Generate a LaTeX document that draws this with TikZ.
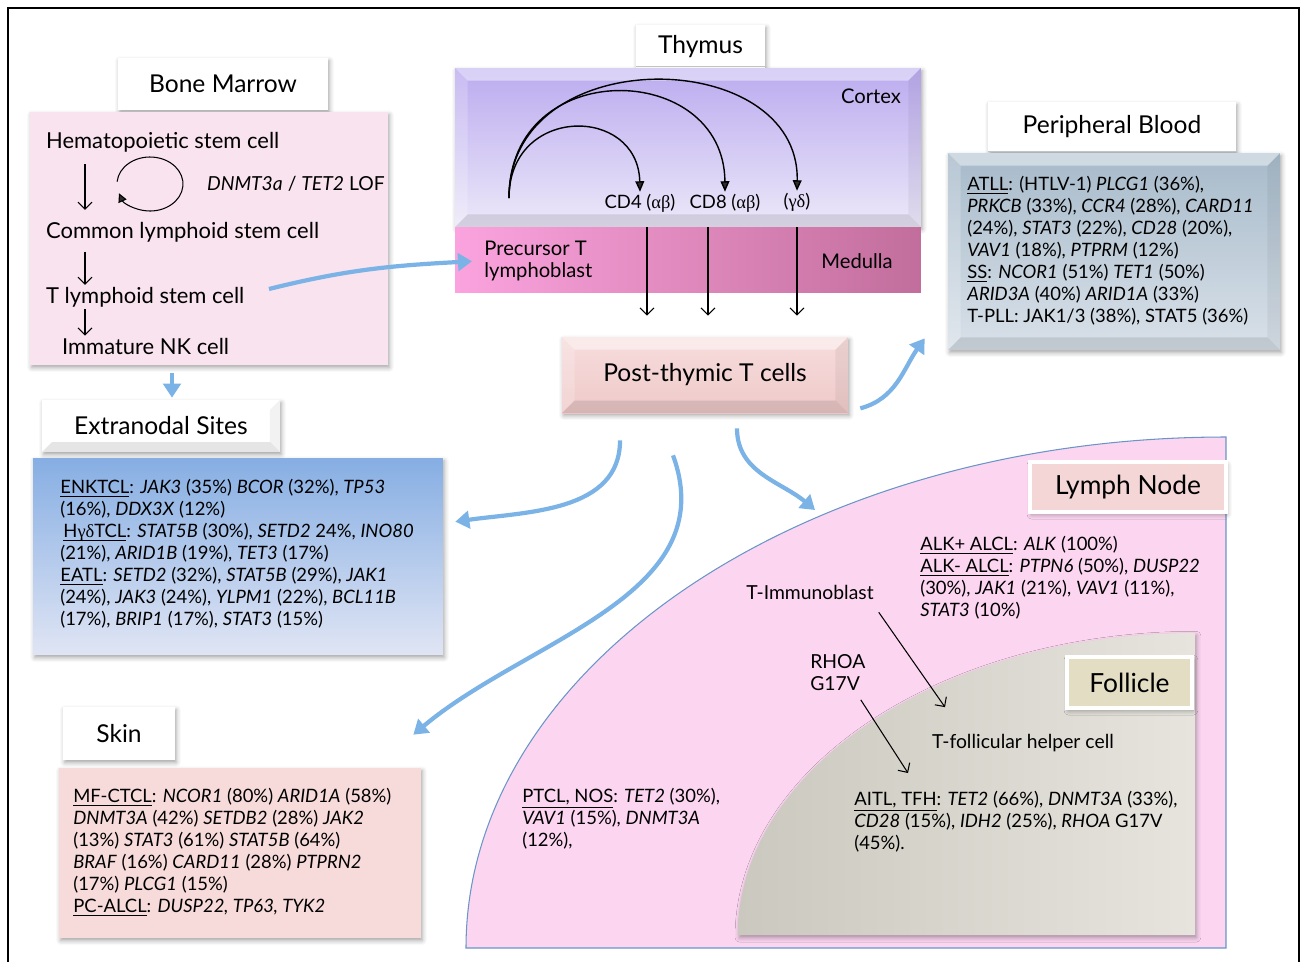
\documentclass[tikz,border=0pt]{standalone}
\usepackage{fontspec}
\setmainfont{Lato}
\newfontfamily\grk{Liberation Serif}
\usetikzlibrary{arrows.meta, positioning, shadows, shadows.blur, calc}
\definecolor{marrowpink}{HTML}{F9E3EE}
\definecolor{cortextop}{HTML}{BBABEF}
\definecolor{cortexbot}{HTML}{ECE8F9}
\definecolor{medleft}{HTML}{FBA3DE}
\definecolor{medright}{HTML}{C26E9C}
\definecolor{posttop}{HTML}{F7DCDC}
\definecolor{postbot}{HTML}{EFC9C9}
\definecolor{bloodtop}{HTML}{A7BACA}
\definecolor{bloodbot}{HTML}{D9E1E9}
\definecolor{extratop}{HTML}{86AEE3}
\definecolor{extrabot}{HTML}{E0E5F4}
\definecolor{skinpink}{HTML}{F7DADA}
\definecolor{nodepink}{HTML}{FCD6F1}
\definecolor{nodeline}{HTML}{6A95C8}
\definecolor{nodetitle}{HTML}{F5D6D6}
\definecolor{follL}{HTML}{CBC8BF}
\definecolor{follR}{HTML}{E6E4DD}
\definecolor{folltitle}{HTML}{E3DDC4}
\definecolor{arrowblue}{HTML}{7CB3E6}

\tikzset{
  bevel/.style={path picture={
    \fill[white,opacity=.45] (path picture bounding box.north west) -- (path picture bounding box.north east)
      -- ([shift={(-#1,-#1)}]path picture bounding box.north east) -- ([shift={(#1,-#1)}]path picture bounding box.north west) -- cycle;
    \fill[white,opacity=.2] (path picture bounding box.north west) -- (path picture bounding box.south west)
      -- ([shift={(#1,#1)}]path picture bounding box.south west) -- ([shift={(#1,-#1)}]path picture bounding box.north west) -- cycle;
    \fill[black,opacity=.1] (path picture bounding box.south west) -- (path picture bounding box.south east)
      -- ([shift={(-#1,#1)}]path picture bounding box.south east) -- ([shift={(#1,#1)}]path picture bounding box.south west) -- cycle;
    \fill[black,opacity=.05] (path picture bounding box.north east) -- (path picture bounding box.south east)
      -- ([shift={(-#1,#1)}]path picture bounding box.south east) -- ([shift={(-#1,-#1)}]path picture bounding box.north east) -- cycle;
  }},
  bevel/.default=0.25cm,
  softshadow/.style={blur shadow={shadow xshift=0.8pt, shadow yshift=-1.5pt, shadow blur radius=2.5pt, shadow opacity=35}}
}

\begin{document}
\begin{tikzpicture}[
  x=0.02cm, y=-0.02cm,
  title/.style={
    rectangle, fill=white, inner sep=0pt, font=\fontsize{14}{16}\selectfont, softshadow,
  },
  panel/.style={rectangle, inner sep=0pt, softshadow},
  cell/.style={anchor=west, inner sep=1pt, font=\fontsize{12.5}{14}\selectfont},
  lbl/.style={inner sep=1pt, font=\fontsize{11.5}{12.5}\selectfont},
  small/.style={inner sep=1pt, font=\fontsize{10.5}{12.5}\selectfont},
  body/.style={anchor=north west, align=left, inner sep=0pt, font=\fontsize{10.5}{12.5}\selectfont},
  thinarr/.style={-{Straight Barb[length=4pt,width=8pt]}, line width=0.6pt},
  curvarr/.style={-{Triangle[length=6pt,width=5pt]}, line width=0.8pt},
  bluearr/.style={-{Triangle[length=8pt,width=10pt]}, line width=2.4pt, arrowblue},
]
  \useasboundingbox (0,0) rectangle (1300,961);
  \draw[line width=1.1pt] (8,975) -- (8,8) -- (1299,8) -- (1299,975);

  % Lymph node and follicle
  \path[fill=nodepink, draw=nodeline, line width=0.6pt] (466,948)
    arc[start angle=180, end angle=270, x radius=760, y radius=511] -- (1226,948) -- cycle;
  \path[left color=follL, right color=follR, softshadow] (738,935)
    arc[start angle=180, end angle=270, x radius=457, y radius=302] -- (1195,935) -- cycle;
  \node[title, fill=nodetitle, draw=white, line width=2.5pt, font=\fontsize{15}{17}\selectfont,
    minimum width=3.92cm, minimum height=1.0cm] (lntitle) at (1128,487) {Lymph Node};
  \node[title, fill=folltitle, draw=white, line width=2.5pt, font=\fontsize{15}{17}\selectfont,
    minimum width=2.5cm, minimum height=1.02cm] (folltitle) at (1129.5,682.5) {Follicle};
  \coordinate (lnentry) at (815,510);

  % Bone marrow
  \node[title, minimum width=4.2cm, minimum height=1.04cm] (bmtitle) at (223,84) {Bone Marrow};
  \node[panel, fill=marrowpink, minimum width=7.16cm, minimum height=5.06cm] (marrow) at (209,238.5) {};
  \node[cell] (hsc) at (44,142) {Hematopoietic stem cell};
  \node[cell] (clsc) at (44,232) {Common lymphoid stem cell};
  \node[cell] (tlsc) at (44,297) {T lymphoid stem cell};
  \node[cell] (nkc) at (60,346) {Immature NK cell};
  \node[lbl, anchor=west, font=\fontsize{11}{12.5}\selectfont] (lof) at (205,184)
    {\textit{DNMT3a} / \textit{TET2} LOF};
  \draw[thinarr, shorten <=0.2cm, shorten >=0.2cm] ([xshift=0.82cm]hsc.south west) -- ([xshift=0.82cm]clsc.north west);
  \draw[thinarr, shorten <=0.15cm] ([xshift=0.82cm]clsc.south west) -- ([xshift=0.82cm]tlsc.north west);
  \draw[thinarr] ([xshift=0.82cm]tlsc.south west) -- ([xshift=0.82cm]tlsc.south west |- nkc.north);
  \draw[-{Triangle[length=5pt,width=5pt]}, line width=0.6pt] (150,184) ++(-175:33 and 27)
    arc[start angle=-175, end angle=160, x radius=33, y radius=27];

  % Thymus
  \node[title, minimum width=2.58cm, minimum height=0.86cm] (thytitle) at (700.5,46.5) {Thymus};
  \node[panel, top color=cortextop, bottom color=cortexbot, bevel,
    minimum width=9.32cm, minimum height=3.18cm] (cortex) at (688,147.5) {};
  \node[rectangle, inner sep=0pt, left color=medleft, right color=medright,
    minimum width=9.32cm, minimum height=1.3cm] (medulla) at (688,259.5) {};
  \node[lbl] (cortexlbl) at (871,96) {Cortex};
  \node[lbl] (medlbl) at (857,261) {Medulla};
  \node[lbl, anchor=north west, align=left, inner sep=0pt] (prec) at (484,241) {Precursor T\\lymphoblast};
  \node[small] (cd4) at (640,203) {CD4 ({\grk αβ})};
  \node[small] (cd8) at (725,203) {CD8 ({\grk αβ})};
  \node[small] (gd) at (797,202) {({\grk γδ})};
  \coordinate (thsrc) at (509,198);
  \draw[curvarr] (thsrc) .. controls (509,105) and (638,105) .. (cd4.north);
  \draw[curvarr] (thsrc) .. controls (509,55) and (724,60) .. (cd8.north);
  \draw[curvarr] (thsrc) .. controls (509,40) and (800,45) .. (gd.north);

  \node[panel, top color=posttop, bottom color=postbot, bevel, font=\fontsize{14}{16}\selectfont,
    minimum width=5.72cm, minimum height=1.52cm] (post) at (705,375) {Post-thymic T cells};
  \foreach \x in {647,708,797}
    \draw[thinarr, shorten >=0.42cm] (cortex.south -| \x,0) -- (post.north -| \x,0);

  % Peripheral blood
  \node[title, minimum width=4.96cm, minimum height=1.0cm] (pbtitle) at (1112,127) {Peripheral Blood};
  \node[panel, top color=bloodtop, bottom color=bloodbot, bevel,
    minimum width=6.64cm, minimum height=3.94cm] (blood) at (1114,251.5) {};
  \node[body] (bloodtxt) at (967,176) {%
    \underline{ATLL}: (HTLV-1) \textit{PLCG1} (36\%),\\
    \textit{PRKCB} (33\%), \textit{CCR4} (28\%), \textit{CARD11}\\
    (24\%), \textit{STAT3} (22\%), \textit{CD28} (20\%),\\
    \textit{VAV1} (18\%), \textit{PTPRM} (12\%)\\
    \underline{SS}: \textit{NCOR1} (51\%) \textit{TET1} (50\%)\\
    \textit{ARID3A} (40\%) \textit{ARID1A} (33\%)\\
    T-PLL: JAK1/3 (38\%), STAT5 (36\%)};

  % Extranodal sites
  \node[title, bevel=0.2cm, minimum width=4.76cm, minimum height=1.04cm] (extitle) at (161,426) {Extranodal Sites};
  \node[panel, top color=extratop, bottom color=extrabot,
    minimum width=8.2cm, minimum height=3.94cm] (extra) at (238,556.5) {};
  \node[body] (extratxt) at (60,479) {%
    \underline{ENKTCL}: \textit{JAK3} (35\%) \textit{BCOR} (32\%), \textit{TP53}\\
    (16\%), \textit{DDX3X} (12\%)\\
    \,\underline{H\smash{\grk γδ}TCL}: \textit{STAT5B} (30\%), \textit{SETD2} 24\%, \textit{INO80}\\
    (21\%), \textit{ARID1B} (19\%), \textit{TET3} (17\%)\\
    \underline{EATL}: \textit{SETD2} (32\%), \textit{STAT5B} (29\%), \textit{JAK1}\\
    (24\%), \textit{JAK3} (24\%), \textit{YLPM1} (22\%), \textit{BCL11B}\\
    (17\%), \textit{BRIP1} (17\%), \textit{STAT3} (15\%)};

  % Skin
  \node[title, minimum width=2.24cm, minimum height=1.06cm] (skintitle) at (119,733.5) {Skin};
  \node[panel, fill=skinpink, minimum width=7.24cm, minimum height=3.4cm] (skin) at (240,853) {};
  \node[body] (skintxt) at (73,788) {%
    \underline{MF-CTCL}: \textit{NCOR1} (80\%) \textit{ARID1A} (58\%)\\
    \textit{DNMT3A} (42\%) \textit{SETDB2} (28\%) \textit{JAK2}\\
    (13\%) \textit{STAT3} (61\%) \textit{STAT5B} (64\%)\\
    \textit{BRAF} (16\%) \textit{CARD11} (28\%) \textit{PTPRN2}\\
    (17\%) \textit{PLCG1} (15\%)\\
    \underline{PC-ALCL}: \textit{DUSP22, TP63, TYK2}};

  % Lymph node contents
  \node[body] (alcltxt) at (920,536) {%
    \underline{ALK+ ALCL}: \textit{ALK} (100\%)\\
    \underline{ALK- ALCL}: \textit{PTPN6} (50\%), \textit{DUSP22}\\
    (30\%), \textit{JAK1} (21\%), \textit{VAV1} (11\%),\\
    \textit{STAT3} (10\%)};
  \node[lbl, font=\fontsize{11}{12.5}\selectfont] (timmuno) at (810,592) {T-Immunoblast};
  \node[lbl, font=\fontsize{11}{12.5}\selectfont, anchor=north west, align=left, inner sep=0pt] (rhoa) at (810,654) {RHOA\\G17V};
  \node[lbl, font=\fontsize{11}{12.5}\selectfont, anchor=west] (tfhcell) at (930,743) {T-follicular helper cell};
  \node[body] (aitltxt) at (854,791) {%
    \underline{AITL, TFH}: \textit{TET2} (66\%), \textit{DNMT3A} (33\%),\\
    \textit{CD28} (15\%), \textit{IDH2} (25\%), \textit{RHOA} G17V\\
    (45\%).};
  \node[body] (ptcltxt) at (522,788) {%
    \underline{PTCL, NOS}: \textit{TET2} (30\%),\\
    \textit{VAV1} (15\%), \textit{DNMT3A}\\
    (12\%),};
  \draw[thinarr] ([shift={(0.06cm,-0.22cm)}]timmuno.south east) -- ([shift={(0.3cm,0.5cm)}]tfhcell.north west);
  \draw[thinarr] ([shift={(-0.1cm,-0.18cm)}]rhoa.south east) -- ([shift={(1.08cm,0.36cm)}]aitltxt.north west);

  % Migration arrows
  \draw[bluearr] ([shift={(0.45cm,0.16cm)}]tlsc.east) to[out=14, in=183] ([xshift=-0.24cm]prec.west);
  \draw[bluearr, shorten <=0.16cm, shorten >=0.04cm] (marrow.south -| 172,0) -- (extitle.north -| 172,0);
  \draw[bluearr] ([shift={(0.24cm,0.1cm)}]post.south east) to[out=15, in=235] ([shift={(-0.46cm,0.24cm)}]blood.south west);
  \draw[bluearr] ([shift={(-1.7cm,-0.54cm)}]post.south) to[out=-90, in=8] ([shift={(0.24cm,-1.28cm)}]extra.north east);
  \draw[bluearr] ([shift={(-0.64cm,-0.84cm)}]post.south) to[out=-70, in=40] ([shift={(-0.16cm,0.66cm)}]skin.north east);
  \draw[bluearr] ([shift={(0.64cm,-0.3cm)}]post.south) to[out=-90, in=140] (lnentry);
\end{tikzpicture}
\end{document}
